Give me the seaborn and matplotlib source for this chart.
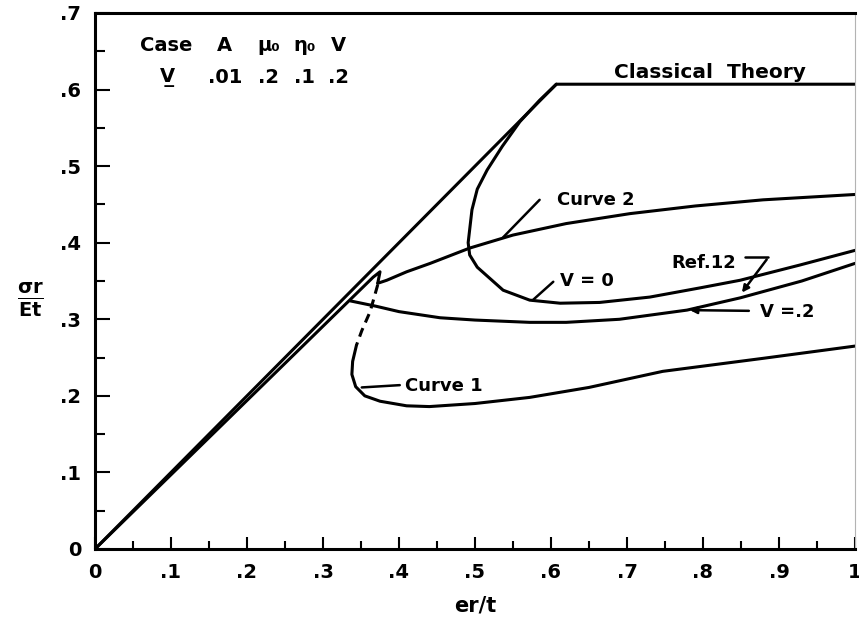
import matplotlib
matplotlib.use("Agg")
import matplotlib.pyplot as plt
from matplotlib.ticker import MultipleLocator
import seaborn as sns

# ---------------------------------
# DATA
# ---------------------------------
classical_x = [0.0, 0.607, 1.0]
classical_y = [0.0, 0.607, 0.607]

# straight branch just under classical theory, ending in the small hook
branch_x = [0.0, 0.366, 0.375, 0.372]
branch_y = [0.0, 0.355, 0.362, 0.347]

curve2_x = [0.372, 0.384, 0.41, 0.441, 0.493, 0.55, 0.62, 0.704, 0.79, 0.879, 1.0]
curve2_y = [0.347, 0.351, 0.362, 0.373, 0.393, 0.41, 0.425, 0.438, 0.448, 0.456, 0.463]

dashed_x = [0.372, 0.362, 0.351, 0.344]
dashed_y = [0.345, 0.31, 0.285, 0.266]

curve1_x = [0.344, 0.339, 0.338, 0.343, 0.355, 0.375, 0.41, 0.44, 0.5, 0.572, 0.65, 0.747, 0.879, 1.0]
curve1_y = [0.266, 0.245, 0.228, 0.212, 0.200, 0.193, 0.187, 0.186, 0.190, 0.198, 0.211, 0.232, 0.249, 0.265]

v0_x = [0.607, 0.585, 0.559, 0.536, 0.516, 0.503, 0.496, 0.491, 0.493, 0.503, 0.537, 0.572, 0.612,
        0.664, 0.73, 0.796, 0.849, 0.928, 1.0]
v0_y = [0.607, 0.586, 0.558, 0.526, 0.495, 0.470, 0.443, 0.400, 0.384, 0.368, 0.338, 0.325, 0.321,
        0.322, 0.329, 0.341, 0.351, 0.371, 0.390]

v2_x = [0.336, 0.37, 0.40, 0.454, 0.50, 0.572, 0.62, 0.69, 0.779, 0.849, 0.93, 1.0]
v2_y = [0.324, 0.317, 0.310, 0.302, 0.299, 0.296, 0.296, 0.300, 0.312, 0.328, 0.350, 0.373]

x_ticks = [0, 0.1, 0.2, 0.3, 0.4, 0.5, 0.6, 0.7, 0.8, 0.9, 1.0]
x_tick_labels = ["0", ".1", ".2", ".3", ".4", ".5", ".6", ".7", ".8", ".9", "1"]
y_ticks = [0, 0.1, 0.2, 0.3, 0.4, 0.5, 0.6, 0.7]
y_tick_labels = ["0", ".1", ".2", ".3", ".4", ".5", ".6", ".7"]

case_header = ["A", "μ₀", "η₀", "V"]
case_values = [".01", ".2", ".1", ".2"]
case_cols = [0.171, 0.228, 0.276, 0.32]

# ---------------------------------
# STYLE
# ---------------------------------
sns.set_theme(style="ticks")
plt.rcParams["font.family"] = ["DejaVu Sans"]
plt.rcParams["font.weight"] = "bold"
for key in ["text.color", "axes.edgecolor", "axes.labelcolor", "xtick.color", "ytick.color"]:
    plt.rcParams[key] = "black"

fig = plt.figure(figsize=(8.59, 6.27), dpi=100)
ax = fig.add_axes([95 / 859, 1 - 549 / 627, 760 / 859, 536 / 627])

lw = 2.2
kw = dict(color="black", linewidth=lw, sort=False, estimator=None, legend=False, ax=ax)

sns.lineplot(x=classical_x, y=classical_y, **kw)
sns.lineplot(x=branch_x, y=branch_y, **kw)
sns.lineplot(x=curve2_x, y=curve2_y, **kw)
sns.lineplot(x=curve1_x, y=curve1_y, **kw)
sns.lineplot(x=v0_x, y=v0_y, **kw)
sns.lineplot(x=v2_x, y=v2_y, **kw)
sns.lineplot(x=dashed_x, y=dashed_y, color="black", linewidth=lw, sort=False,
             estimator=None, legend=False, ax=ax, dashes=False, linestyle=(0, (3, 2)))

ax.set_xlim(0, 1.0)
ax.set_ylim(0, 0.7)

ax.set_xticks(x_ticks)
ax.set_xticklabels(x_tick_labels)
ax.set_yticks(y_ticks)
ax.set_yticklabels(y_tick_labels)
ax.xaxis.set_minor_locator(MultipleLocator(0.05))
ax.yaxis.set_minor_locator(MultipleLocator(0.05))

ax.tick_params(axis="x", which="major", direction="in", length=9, width=1.5,
               labelsize=14, pad=10, top=False)
ax.tick_params(axis="x", which="minor", direction="in", length=6, width=1.5, top=False)
ax.tick_params(axis="y", which="major", direction="in", length=11, width=1.5,
               labelsize=14, pad=10, right=False)
ax.tick_params(axis="y", which="minor", direction="in", length=7, width=1.5, right=False)

for side in ["left", "bottom", "top"]:
    ax.spines[side].set_linewidth(2.2)
ax.spines["right"].set_linewidth(0.8)
ax.spines["right"].set_color("0.7")

ax.set_xlabel("er/t", fontsize=15, fontweight="bold", labelpad=10)
ax.set_ylabel(r"$\mathbf{\frac{\sigma r}{Et}}$", fontsize=20, rotation=0, va="center")
ax.yaxis.set_label_coords(-0.085, 0.465)

# ---------------------------------
# ANNOTATIONS
# ---------------------------------
tkw = dict(fontsize=13, fontweight="bold", va="center")

ax.text(0.059, 0.658, "Case", ha="left", fontsize=14, fontweight="bold", va="center")
for cx, h, v in zip(case_cols, case_header, case_values):
    ax.text(cx, 0.658, h, ha="center", fontsize=14, fontweight="bold", va="center")
    ax.text(cx, 0.616, v, ha="center", fontsize=14, fontweight="bold", va="center")
ax.text(0.096, 0.616, "V\u0332", ha="center", fontsize=14, fontweight="bold", va="center")

ax.text(0.683, 0.6105, "Classical  Theory", ha="left", va="bottom", fontsize=14.5,
        fontweight="bold")

ax.text(0.608, 0.456, "Curve 2", ha="left", **tkw)
ax.plot([0.585, 0.537], [0.456, 0.407], color="black", linewidth=1.8)

ax.text(0.612, 0.350, "V = 0", ha="left", **tkw)
ax.plot([0.603, 0.576], [0.349, 0.325], color="black", linewidth=1.8)

ax.text(0.759, 0.373, "Ref.12", ha="left", **tkw)
ax.plot([0.855, 0.886], [0.381, 0.381], color="black", linewidth=1.8)
ax.annotate("", xy=(0.849, 0.332), xytext=(0.886, 0.381),
            arrowprops=dict(arrowstyle="-|>", color="black", lw=1.8, mutation_scale=10))

ax.text(0.875, 0.309, "V =.2", ha="left", **tkw)
ax.annotate("", xy=(0.779, 0.312), xytext=(0.864, 0.311),
            arrowprops=dict(arrowstyle="-|>", color="black", lw=1.8, mutation_scale=10))

ax.text(0.408, 0.213, "Curve 1", ha="left", **tkw)
ax.plot([0.401, 0.351], [0.214, 0.211], color="black", linewidth=1.8)

fig.savefig("out.png", dpi=100)
plt.close(fig)
